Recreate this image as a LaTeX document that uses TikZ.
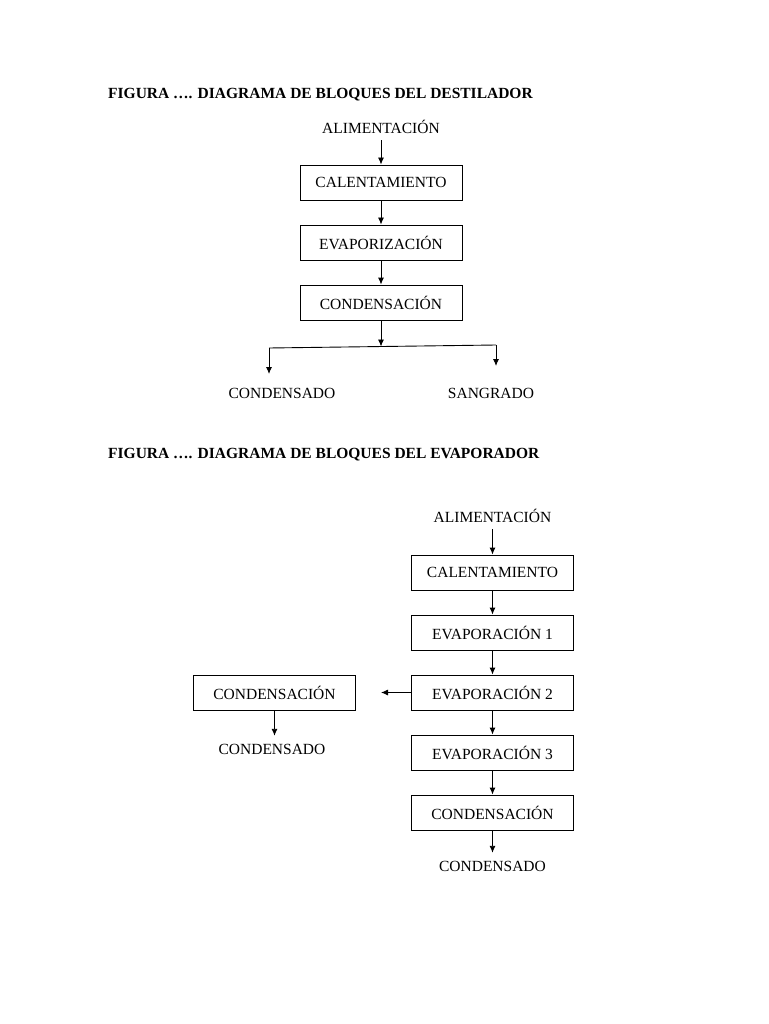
\documentclass[tikz,border=0pt]{standalone}
\usepackage{fontspec}
\setmainfont{Liberation Serif}
\usetikzlibrary{arrows.meta}
\begin{document}
\begin{tikzpicture}[x=1pt,y=-1pt,
  every node/.style={font=\fontsize{15.5}{17}\selectfont},
  blk/.style={draw,line width=0.9pt,minimum width=162pt,minimum height=35pt,inner sep=0pt},
  lbl/.style={inner sep=0pt,minimum height=26pt},
  ttl/.style={inner sep=0pt,anchor=west,font=\fontsize{15.5}{17}\selectfont\bfseries},
  arr/.style={line width=0.9pt,-{Latex[length=7pt,width=6pt]}},
  ln/.style={line width=0.9pt}]
\useasboundingbox (0,0) rectangle (768,1024);
% ---------- Destilador ----------
\node[ttl] (t1) at (108,95) {FIGURA …. DIAGRAMA DE BLOQUES DEL DESTILADOR};
\node[lbl] (a1) at (381,127) {ALIMENTACIÓN};
\node[blk] (c1) at (381,182.5) {CALENTAMIENTO};
\node[blk] (e1) at (381,242.5) {EVAPORIZACIÓN};
\node[blk] (d1) at (381,302.5) {CONDENSACIÓN};
\coordinate (sp) at (381,346.5);
\coordinate (sl) at (269,348);
\coordinate (sr) at (496,345);
\coordinate (slb) at (269,374);
\coordinate (srb) at (496,366);
\node[lbl] (cd1) at (282,393) {CONDENSADO};
\node[lbl] (sg1) at (491,393) {SANGRADO};
\draw[arr] (a1.south) -- (c1.north);
\draw[arr] (c1.south) -- (e1.north);
\draw[arr] (e1.south) -- (d1.north);
\draw[arr] (d1.south) -- (sp);
\draw[ln] (sl) -- (sr);
\draw[arr] (sl) -- (slb);
\draw[arr] (sr) -- (srb);
% ---------- Evaporador ----------
\node[ttl] (t2) at (108,455) {FIGURA …. DIAGRAMA DE BLOQUES DEL EVAPORADOR};
\node[lbl] (a2) at (492.5,516) {ALIMENTACIÓN};
\node[blk] (c2) at (492.5,572.5) {CALENTAMIENTO};
\node[blk] (v1) at (492.5,632.5) {EVAPORACIÓN 1};
\node[blk] (v2) at (492.5,692.5) {EVAPORACIÓN 2};
\node[blk] (v3) at (492.5,752.5) {EVAPORACIÓN 3};
\node[blk] (d2) at (492.5,812.5) {CONDENSACIÓN};
\node[lbl] (cd2) at (492.5,866) {CONDENSADO};
\node[blk] (d3) at (274.5,692.5) {CONDENSACIÓN};
\node[lbl] (cd3) at (272,749) {CONDENSADO};
\coordinate (lf) at (381,692.5);
\draw[arr] (a2.south) -- (c2.north);
\draw[arr] (c2.south) -- (v1.north);
\draw[arr] (v1.south) -- (v2.north);
\draw[arr] (v2.south) -- (v3.north);
\draw[arr] (v3.south) -- (d2.north);
\draw[arr] (d2.south) -- (cd2.north);
\draw[arr] (v2.west) -- (lf);
\draw[arr] (d3.south) -- (d3.south |- cd3.north);
\end{tikzpicture}
\end{document}
